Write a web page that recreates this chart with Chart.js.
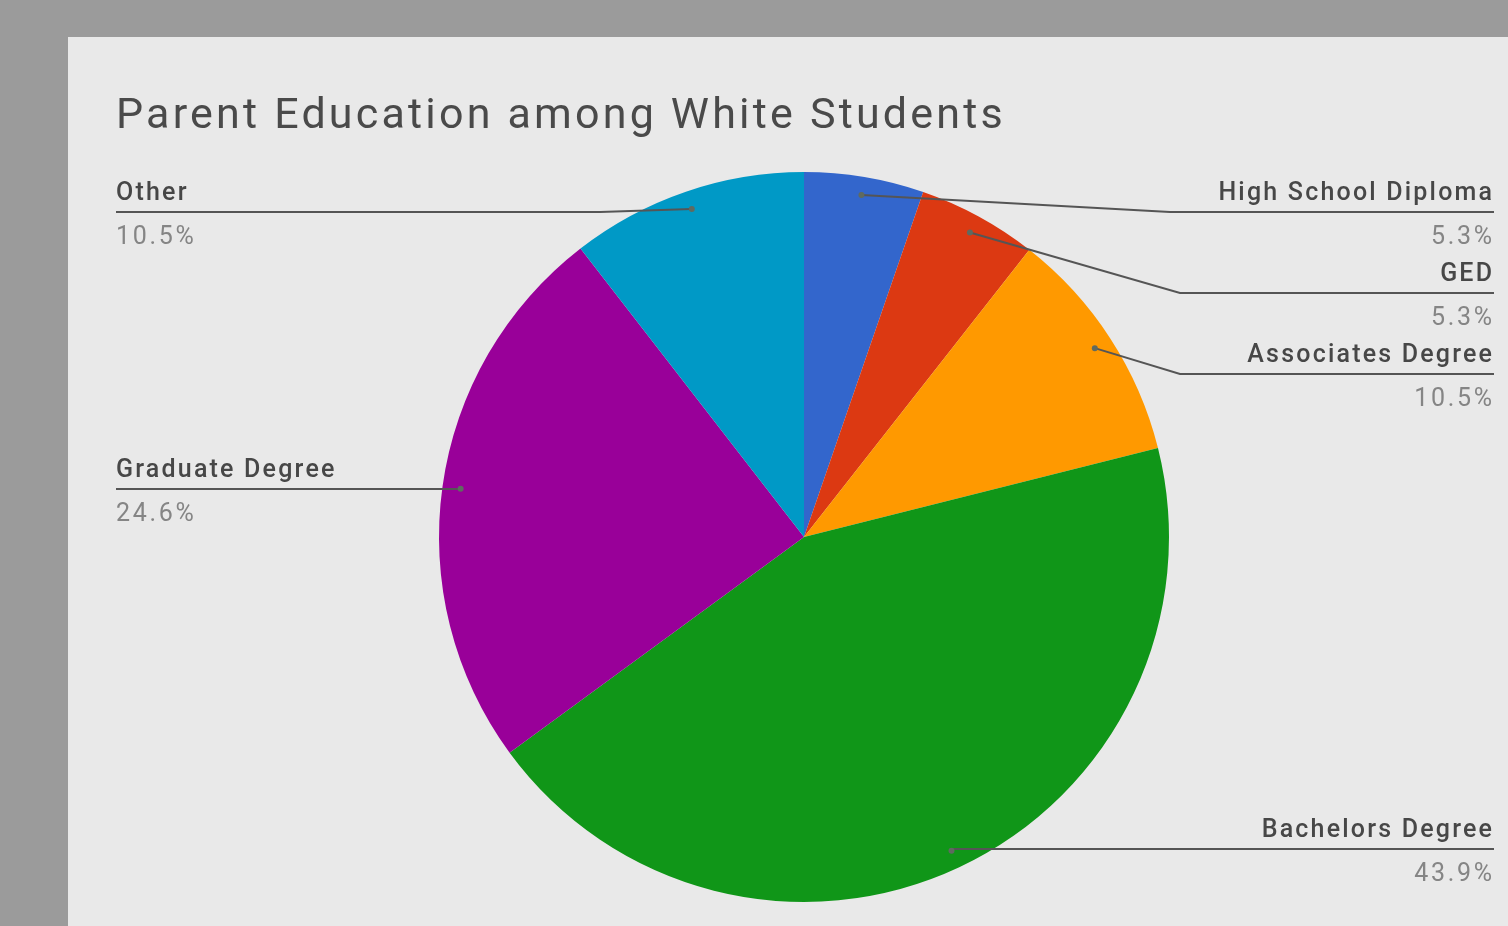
<!DOCTYPE html>
<html>
<head>
<meta charset="utf-8">
<script src="https://cdn.jsdelivr.net/npm/chart.js@4.4.1/dist/chart.umd.min.js"></script>
<style>
  html, body { margin: 0; padding: 0; background: #9b9b9b; overflow: hidden; }
  #panel { position: absolute; left: 68px; top: 37px; right: 0; bottom: 0; background: #e9e9e9; }
  #c { position: absolute; left: 0; top: 0; }
</style>
</head>
<body>
<div id="panel"></div>
<canvas id="c" width="1508" height="926"></canvas>
<script>
const title = 'Parent Education among White Students';
const categories = ['High School Diploma', 'GED', 'Associates Degree', 'Bachelors Degree', 'Graduate Degree', 'Other'];
const values = [5.3, 5.3, 10.5, 43.9, 24.6, 10.5];
const sliceColors = ['#3366cc', '#dc3912', '#ff9900', '#109618', '#990099', '#0099c6'];

// label layout (style only): side, y of underline, x of elbow (null = straight)
const labelSide = ['right', 'right', 'right', 'right', 'left', 'left'];
const labelLineY = [212, 293, 374, 849, 489, 212];
const labelElbowX = [1170, 1180, 1180, null, null, 600];

const FONT = 'Roboto, "Noto Sans", sans-serif';

function drawSpaced(ctx, text, x, y, spacing, align) {
  if ('letterSpacing' in ctx) {
    ctx.letterSpacing = spacing + 'px';
    ctx.textAlign = align;
    ctx.fillText(text, align === 'right' ? x + spacing : x, y);
    ctx.letterSpacing = '0px';
  } else {
    let w = 0;
    for (const ch of text) w += ctx.measureText(ch).width + spacing;
    w -= spacing;
    let cx = align === 'right' ? x - w : x;
    ctx.textAlign = 'left';
    for (const ch of text) {
      ctx.fillText(ch, cx, y);
      cx += ctx.measureText(ch).width + spacing;
    }
  }
}

const labelsPlugin = {
  id: 'leaderLabels',
  afterDatasetsDraw(chart) {
    const ctx = chart.ctx;
    const meta = chart.getDatasetMeta(0);
    const total = values.reduce((a, b) => a + b, 0);
    ctx.save();
    ctx.textBaseline = 'alphabetic';
    ctx.fillStyle = '#4a4a4a';
    ctx.font = '43px ' + FONT;
    drawSpaced(ctx, title, 116, 128, 3.2, 'left');

    meta.data.forEach((arc, i) => {
      const p = arc.getProps(['x', 'y', 'startAngle', 'endAngle', 'outerRadius'], true);
      const mid = (p.startAngle + p.endAngle) / 2;
      const r = p.outerRadius * 0.95;
      const dx = p.x + Math.cos(mid) * r;
      const dy = p.y + Math.sin(mid) * r;
      const ly = labelLineY[i];
      const right = labelSide[i] === 'right';
      const endX = right ? 1494 : 116;
      const elbowX = labelElbowX[i] === null ? dx : labelElbowX[i];

      ctx.strokeStyle = '#555555';
      ctx.lineWidth = 2;
      ctx.beginPath();
      ctx.moveTo(dx, dy);
      ctx.lineTo(elbowX, ly);
      ctx.lineTo(endX, ly);
      ctx.stroke();

      ctx.fillStyle = '#5f6a60';
      ctx.beginPath();
      ctx.arc(dx, dy, 3, 0, Math.PI * 2);
      ctx.fill();

      const align = right ? 'right' : 'left';
      const tx = right ? 1492 : 116;
      ctx.font = '500 25px ' + FONT;
      ctx.fillStyle = '#474747';
      drawSpaced(ctx, categories[i], tx, ly - 12, 2.2, align);
      ctx.font = '25px ' + FONT;
      ctx.fillStyle = '#858585';
      drawSpaced(ctx, (values[i] / total * 100).toFixed(1) + '%', tx, ly + 32, 2.7, align);
    });
    ctx.restore();
  }
};

new Chart(document.getElementById('c'), {
  type: 'pie',
  data: {
    labels: categories,
    datasets: [{
      data: values,
      backgroundColor: sliceColors,
      borderWidth: 0
    }]
  },
  options: {
    responsive: false,
    animation: false,
    devicePixelRatio: 1,
    layout: { padding: { left: 439, right: 339, top: 172, bottom: 24 } },
    plugins: {
      legend: { display: false },
      tooltip: { enabled: false },
      title: { display: false }
    }
  },
  plugins: [labelsPlugin]
});
</script>
</body>
</html>
